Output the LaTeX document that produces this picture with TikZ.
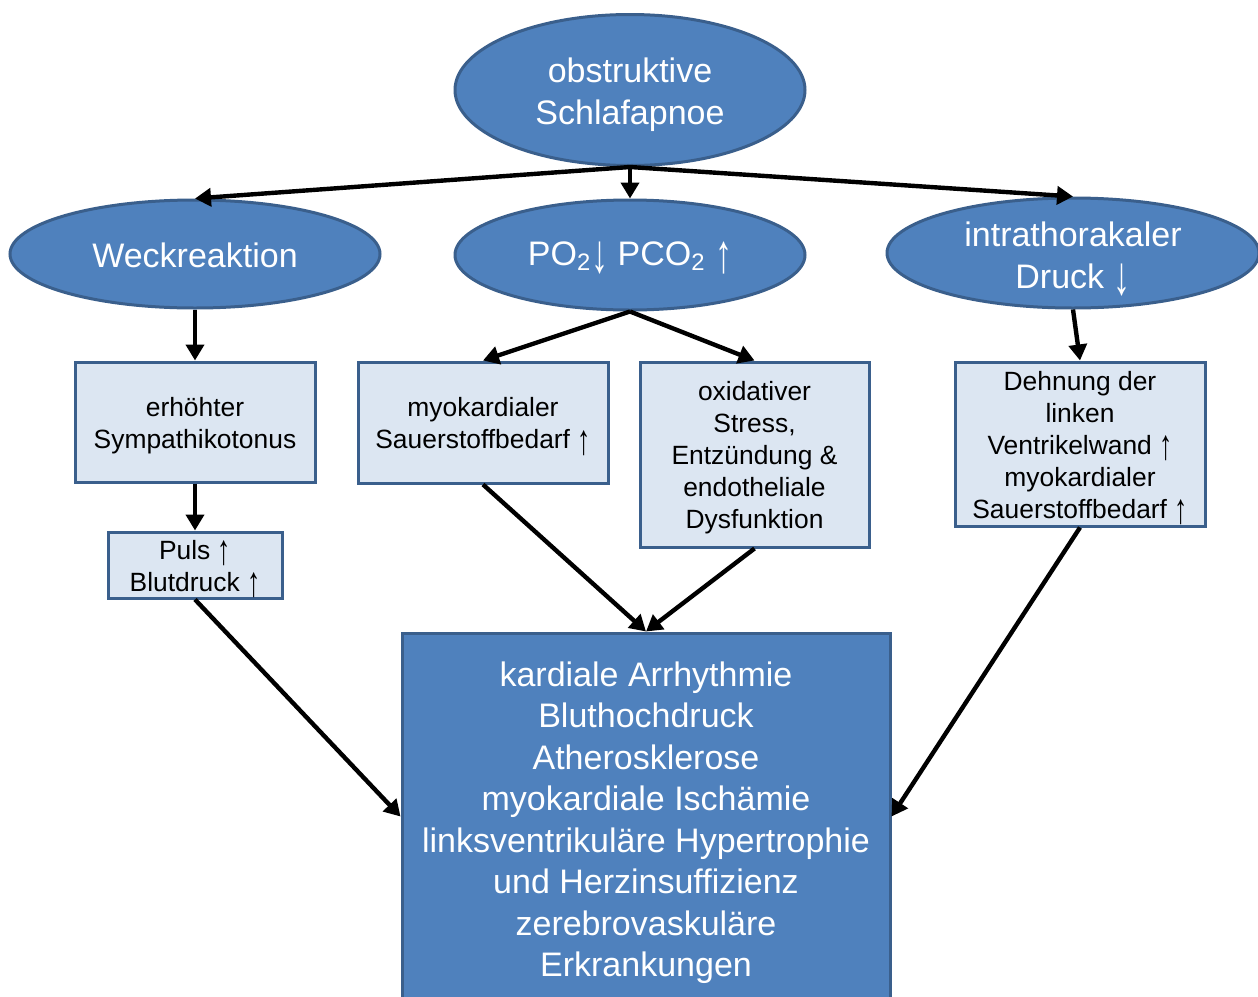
\documentclass[tikz,border=0pt]{standalone}
\usepackage{fontspec}
\usepackage{graphicx}
\setmainfont{Liberation Sans}
\usetikzlibrary{shapes.geometric,arrows.meta}
\definecolor{dblue}{HTML}{4F81BD}
\definecolor{bborder}{HTML}{3A5F8C}
\definecolor{lblue}{HTML}{DCE6F2}
\newcommand{\uparr}{\raisebox{-0.2em}{\scalebox{1}[1.6]{↑}}}
\newcommand{\downarr}{\raisebox{-0.2em}{\scalebox{1}[1.6]{↓}}}
\tikzset{
  bigell/.style={ellipse,draw=bborder,line width=1.5pt,fill=dblue,inner sep=0pt},
  lbox/.style={rectangle,draw=bborder,line width=1.5pt,fill=lblue,inner sep=0pt},
  dbox/.style={rectangle,draw=bborder,line width=1.5pt,fill=dblue,inner sep=0pt},
  wtxt/.style={text=white,inner sep=0pt,align=center,font=\fontsize{17}{21}\selectfont},
  btxt/.style={text=black,inner sep=0pt,align=center,font=\fontsize{13.2}{16}\selectfont},
  dtxt/.style={text=white,inner sep=0pt,align=center,font=\fontsize{17}{20.75}\selectfont},
  arr/.style={line width=2.2pt,-{Triangle[length=8pt,width=9pt]}}
}
\begin{document}
\begin{tikzpicture}[x=0.5pt,y=-0.5pt]
\useasboundingbox[fill=white] (0,0) rectangle (1258,996);
\node[bigell,minimum width=175pt,minimum height=75.5pt] (osa) at (630,90) {};
\node[wtxt] (osat) at ([yshift=-2.5pt]osa.center) {obstruktive\\Schlafapnoe};
\node[bigell,minimum width=185pt,minimum height=54pt] (weck) at (195,254) {};
\node[wtxt] (weckt) at ([yshift=-0.5pt]weck.center) {Weckreaktion};
\node[bigell,minimum width=175pt,minimum height=55pt] (po) at (630,255) {};
\node[wtxt] (pot) at ([yshift=-1.5pt]po.center) {PO\textsubscript{2}\downarr{} PCO\textsubscript{2} \uparr};
\node[bigell,minimum width=186pt,minimum height=55pt] (intra) at (1073,253) {};
\node[wtxt] (intrat) at ([yshift=-3pt]intra.center) {intrathorakaler\\Druck \downarr};
\node[lbox,minimum width=120pt,minimum height=60pt] (sym) at (195,422) {};
\node[btxt] (symt) at ([yshift=-2pt]sym.center) {erhöhter\\Sympathikotonus};
\node[lbox,minimum width=87pt,minimum height=33pt] (puls) at (195,565) {};
\node[btxt] (pulst) at ([yshift=-2pt]puls.center) {Puls \uparr\\Blutdruck \uparr};
\node[lbox,minimum width=125pt,minimum height=60.5pt] (myo) at (483,422.5) {};
\node[btxt] (myot) at ([yshift=-2pt]myo.center) {myokardialer\\Sauerstoffbedarf \uparr};
\node[lbox,minimum width=114.5pt,minimum height=92.5pt] (oxi) at (754.5,454.5) {};
\node[btxt] (oxit) at ([yshift=-1.5pt]oxi.center) {oxidativer\\Stress,\\Entzündung \&\\endotheliale\\Dysfunktion};
\node[lbox,minimum width=125pt,minimum height=82pt] (dehn) at (1080,444) {};
\node[btxt] (dehnt) at ([yshift=-2pt]dehn.center) {Dehnung der\\linken\\Ventrikelwand \uparr\\myokardialer\\Sauerstoffbedarf \uparr};
\node[dbox,minimum width=244pt,minimum height=183.5pt] (big) at (646,816.5) {};
\node[dtxt] (bigt) at ([yshift=-3pt]big.center) {kardiale Arrhythmie\\Bluthochdruck\\Atherosklerose\\myokardiale Ischämie\\linksventrikuläre Hypertrophie\\und Herzinsuffizienz\\zerebrovaskuläre\\Erkrankungen};
\coordinate (split) at (630,167);
\draw[arr] (split) -- (weck.north);
\draw[arr] (split) -- (po.north);
\draw[arr] (split) -- (intra.north);
\draw[arr] (weck.south) -- (sym.north);
\draw[arr] (sym.south) -- (puls.north);
\draw[arr] (puls.south) -- (big.west);
\draw[arr] (po.south) -- (myo.north);
\draw[arr] (po.south) -- (oxi.north);
\draw[arr] (myo.south) -- (big.north);
\draw[arr] (oxi.south) -- (big.north);
\draw[arr] (intra.south) -- (dehn.north);
\draw[arr] (dehn.south) -- (big.east);
\end{tikzpicture}
\end{document}
